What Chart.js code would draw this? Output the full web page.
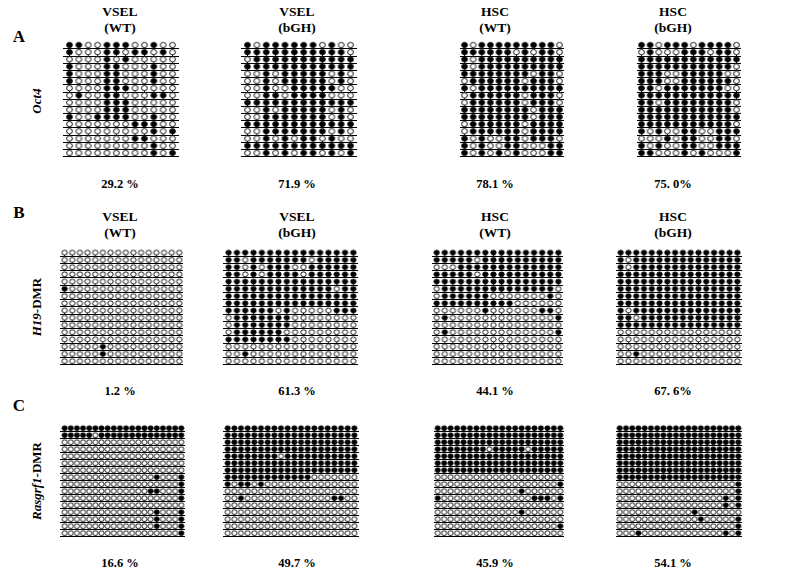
<!DOCTYPE html>
<html>
<head>
<meta charset="utf-8">
<script src="https://cdn.jsdelivr.net/npm/chart.js@4.4.1/dist/chart.umd.min.js"></script>
<style>
body { margin: 0; background: #fff; }
#fig { position: relative; width: 791px; height: 577px; font-family: "Liberation Serif", "Times New Roman", serif; font-weight: bold; color: #000; }
.t { position: absolute; white-space: nowrap; line-height: 1; transform: translateX(-50%); }
.rot { position: absolute; white-space: nowrap; line-height: 1; font-size: 13px; transform: translate(-50%, -50%) rotate(-90deg); }
.panel { position: absolute; }
</style>
</head>
<body>
<div id="fig"></div>
<script>
// sample names and labels
var samples = ['VSEL', 'VSEL', 'HSC', 'HSC'];
var groups = ['(WT)', '(bGH)', '(WT)', '(bGH)'];
var genes = ['Oct4', 'H19', 'Rasgrf1'];
var geneSuffix = ['', '-DMR', '-DMR'];
var panelLetters = ['A', 'B', 'C'];
var oct4Percent = ['29.2 %', '71.9 %', '78.1 %', '75. 0%'];
var h19Percent = ['1.2 %', '61.3 %', '44.1 %', '67. 6%'];
var rasgrf1Percent = ['16.6 %', '49.7 %', '45.9 %', '54.1 %'];

// methylation per clone (row) and CpG (column): 1 = methylated, 0 = unmethylated
var oct4VselWt = [
    '110011100100', '100011011010', '000010100000', '100011000100',
    '100011000100', '100011000100', '000011100000', '010011000110',
    '000011100000', '000011100000', '100111100100', '000000011100',
    '000000000101', '000000011000', '000000000100', '000000000101'];
var oct4VselBgh = [
    '101111110100', '111111111110', '011111111111', '111111111111',
    '001011111010', '001011111010', '001001111100', '001101111000',
    '111111111111', '001011111010', '001111111010', '111111111111',
    '001111111010', '001010110100', '111111111111', '001010110101'];
var oct4HscWt = [
    '101111111110', '111111010110', '101111111111', '101111111111',
    '111111110110', '011111101110', '101111111111', '011111101110',
    '011111101110', '111111110111', '111111110111', '011111101111',
    '011111101111', '101001101110', '101001100011', '101010100011'];
var oct4HscBgh = [
    '110111011110', '010001110110', '111111111111', '111111111110',
    '111001111100', '111001111110', '110111111100', '111111111111',
    '110111111110', '111111111110', '111111111111', '111111111110',
    '101001100111', '000101100110', '101001100111', '110001010001'];

var h19VselWt = [
    '0000000000000000', '0000000000000000', '0000000000000000', '0000000000000000',
    '0000000000000000', '1000000000000000', '0000000000000000', '0000000000000000',
    '0000000000000000', '0000000000000000', '0000000000000000', '0000000000000000',
    '0000000000000000', '0000010000000000', '0000010000000000', '0000000000000000'];
var h19VselBgh = [
    '1111111111111111', '1101111111011111', '1101011100111111', '1101011110111111',
    '1111111111111111', '1111111111111011', '1111111111111111', '1111111111111111',
    '1111110100000111', '0111111100000000', '0111111100000000', '0111111000000000',
    '1111111100000000', '0000000000000000', '0010000000000000', '0000000000000000'];
var h19HscWt = [
    '1111111111111111', '1111101111111111', '0001111111111111', '1111101111111111',
    '1111111111111111', '0111111111111110', '0111111000000010', '1111111111000000',
    '0000001000000110', '0100000000000001', '0000000000000000', '0100000000000001',
    '0000000000000000', '0000000000000000', '0000000000000000', '0000000000000000'];
var h19HscBgh = [
    '1111111111111111', '1011111111111111', '1011111111111111', '1111111111111111',
    '1111111111111111', '1111111111111111', '1111111111111111', '1111111111111111',
    '1011111111111111', '1101111111111111', '1111111111111111', '0000000000000000',
    '0000000000000000', '0000000000000000', '0010000000000000', '0000000000000000'];

var rasVselWt = [
    '11111111111111111111', '11111011111111111111', '00000000000000000000', '00000000000000000000',
    '00000000000000000000', '00000000000000000000', '00000000000000000000', '00000000000000010001',
    '00000000000000000001', '00000000000000110001', '00000000000000000001', '00000000000000000000',
    '00000000000000010001', '00000000000000010001', '00000000000000010001', '00000000000000000001'];
var rasVselBgh = [
    '11111111111111111111', '11111111111111111111', '11111111111111111111', '11111111111111111111',
    '11111111011111111111', '11111111111111111111', '11111111111111111111', '11111111111110000000',
    '10110100000000000000', '00000000000000000000', '00100000000000001100', '00000000000000000000',
    '00000000000000000000', '00000000000000000000', '00000000000000000000', '00000000000000000000'];
var rasHscWt = [
    '11111111111111111111', '11111111111111111111', '11111111111111111111', '11111111011111011111',
    '11111111111111111111', '11111111111111111111', '11111111111111111111', '00000000000000000000',
    '00000000000000000001', '00000000000001000000', '10000000000000011101', '00000000000000000000',
    '00000000000001000000', '00000000000000000000', '00000000000000000001', '00000000000000000000'];
var rasHscBgh = [
    '11111111111111111111', '11111111111111111111', '11111111111111111111', '11111111111111111111',
    '11111111111111111111', '11111111111111111111', '11111111111111111111', '11111111111111111111',
    '00000000000000000001', '00000000000000000001', '00000000000000000101', '00000000000000000101',
    '00000000000010000000', '00000000000001000001', '00000000000000000001', '00010000000000000101'];

var patterns = [
    [oct4VselWt, oct4VselBgh, oct4HscWt, oct4HscBgh],
    [h19VselWt, h19VselBgh, h19HscWt, h19HscBgh],
    [rasVselWt, rasVselBgh, rasHscWt, rasHscBgh]
];
var percents = [oct4Percent, h19Percent, rasgrf1Percent];

// layout: first/last line y, lollipop size per figure row
var rowBoxes = [
    {y0: 44.5, y1: 161.5, rx: 2.9, ry: 2.6, stem: 1.3, headY: 5, pctY: 178, letterY: 28, geneY: 101},
    {y0: 252, y1: 369.5, rx: 2.7, ry: 2.4, stem: 1.3, headY: 210, pctY: 385, letterY: 204, geneY: 307},
    {y0: 427.5, y1: 541.5, rx: 2.6, ry: 2.4, stem: 1.3, headY: null, pctY: 557, letterY: 397, geneY: 481}
];
var labelX = [120, 297, 495, 673];
// line start/end, first/last CpG centre
var colBoxes = [
    [[58, 184, 65, 177], [236, 362, 243, 355], [455, 569, 460, 564], [632, 746, 637, 741]],
    [[55, 188, 60, 184], [218, 363, 224, 358], [427, 568, 432, 563], [611, 747, 616, 742]],
    [[55, 190, 60, 186], [218, 364, 223, 359], [429, 569, 433, 565], [611, 747, 615, 743]]
];

var fig = document.getElementById('fig');

function addText(html, x, y, size, cls) {
    var d = document.createElement('div');
    d.className = cls || 't';
    d.style.left = x + 'px';
    d.style.top = y + 'px';
    if (size) d.style.fontSize = size + 'px';
    d.innerHTML = html;
    fig.appendChild(d);
}

// lollipop glyph: circle on a short stem, stem foot at the image centre
function glyph(filled, rx, ry, stem) {
    var w = 2 * Math.ceil(rx) + 3;
    var half = Math.ceil(2 * ry + stem + 1.5);
    var c = document.createElement('canvas');
    c.width = w;
    c.height = half * 2;
    var g = c.getContext('2d');
    var cx = w / 2, cy = half - stem - ry;
    g.strokeStyle = '#000';
    g.lineWidth = 1;
    g.beginPath();
    g.moveTo(cx, cy + ry);
    g.lineTo(cx, half);
    g.stroke();
    g.beginPath();
    g.ellipse(cx, cy, rx, ry, 0, 0, Math.PI * 2);
    g.fillStyle = filled ? '#000' : '#fff';
    g.fill();
    g.lineWidth = 0.9;
    g.stroke();
    return c;
}

function drawPanel(rows, box, cb) {
    var nRows = rows.length, nCols = rows[0].length;
    var sp = (cb[3] - cb[2]) / (nCols - 1);
    var rs = (box.y1 - box.y0) / (nRows - 1);
    var topPx = 9, botPx = 3;
    var left = cb[0], width = cb[1] - cb[0];
    var top = Math.round(box.y0 - topPx), height = Math.round(box.y1 - box.y0 + topPx + botPx);
    var full = [], open = [], rowTicks = [];
    rows.forEach(function (r, i) {
        rowTicks.push(i);
        for (var j = 0; j < r.length; j++) {
            (r[j] === '1' ? full : open).push({x: j, y: i});
        }
    });
    var wrap = document.createElement('div');
    wrap.className = 'panel';
    wrap.style.left = left + 'px';
    wrap.style.top = top + 'px';
    var cv = document.createElement('canvas');
    cv.width = width;
    cv.height = height;
    wrap.appendChild(cv);
    fig.appendChild(wrap);
    var y0px = box.y0 - top;
    new Chart(cv, {
        type: 'scatter',
        data: {
            datasets: [
                {data: open, pointStyle: glyph(false, box.rx, box.ry, box.stem), pointRadius: 3, clip: false},
                {data: full, pointStyle: glyph(true, box.rx, box.ry, box.stem), pointRadius: 3, clip: false}
            ]
        },
        options: {
            responsive: false,
            animation: false,
            events: [],
            layout: {padding: 0},
            plugins: {legend: {display: false}, tooltip: {enabled: false}},
            scales: {
                x: {
                    type: 'linear', display: false,
                    min: -(cb[2] - cb[0]) / sp,
                    max: nCols - 1 + (cb[1] - cb[3]) / sp
                },
                y: {
                    type: 'linear', reverse: true,
                    min: -y0px / rs,
                    max: nRows - 1 + (height - y0px - (box.y1 - box.y0)) / rs,
                    afterBuildTicks: function (s) {
                        s.ticks = rowTicks.map(function (v) { return {value: v}; });
                    },
                    ticks: {display: false},
                    border: {display: false},
                    grid: {color: '#000', lineWidth: 1, drawTicks: false}
                }
            }
        }
    });
}

patterns.forEach(function (rowSet, r) {
    var box = rowBoxes[r];
    addText(panelLetters[r], 19, box.letterY, 17);
    addText('<i>' + genes[r] + '</i>' + geneSuffix[r], 36, box.geneY, null, 'rot');
    rowSet.forEach(function (rows, c) {
        var cb = colBoxes[r][c];
        drawPanel(rows, box, cb);
        if (box.headY !== null) {
            addText(samples[c], labelX[c], box.headY, 13.5);
            addText(groups[c], labelX[c], box.headY + 16, 13.5);
        }
        addText(percents[r][c], labelX[c], box.pctY, 12.5);
    });
});
</script>
</body>
</html>
